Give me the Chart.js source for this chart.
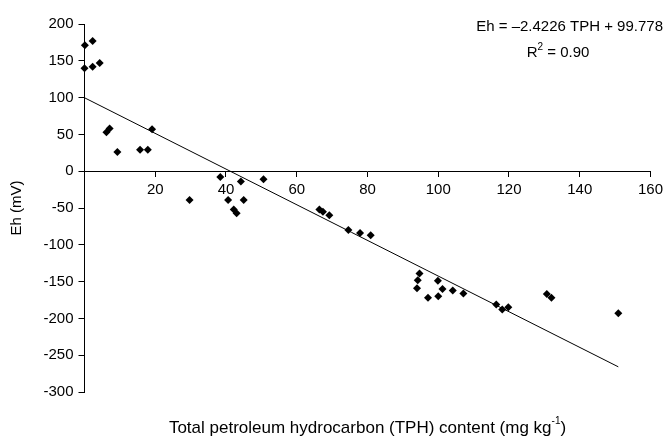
<!DOCTYPE html>
<html>
<head>
<meta charset="utf-8">
<script src="https://cdn.jsdelivr.net/npm/chart.js@4/dist/chart.umd.min.js"></script>
<style>
  html, body { margin: 0; padding: 0; background: #fff; }
  #wrap { width: 668px; height: 441px; }
</style>
</head>
<body>
<div id="wrap"><canvas id="chart"></canvas></div>
<script>
const tph = [0.1, 0, 2.3, 2.3, 4.3, 6.2, 7.1, 9.3, 15.7, 17.9, 19.1,
  29.7, 38.4, 40.6, 42.2, 43, 44.2, 45, 50.6, 66.4, 67.4, 69.2,
  74.6, 77.9, 80.9, 94.7, 94.2, 94, 97.1, 99.9, 101.2, 100, 104.1, 107.1,
  116.4, 118.1, 119.8, 130.7, 132, 150.9];
const eh = [171, 140, 177, 142, 147, 53, 58, 26, 29, 29, 57,
  -39, -8, -39, -52, -57, -14, -39, -11, -52, -55, -60,
  -80, -84, -87, -139, -148, -159, -172, -149, -160, -170, -162, -166,
  -181, -188, -185, -167, -172, -193];

const slope = -2.4226;
const intercept = 99.778;
const fitX = [0, 150.9];
const eqText = 'Eh = \u20132.4226 TPH + 99.778';
const xTitle = 'Total petroleum hydrocarbon (TPH) content (mg kg';

const font = "'Liberation Sans', Arial, sans-serif";

const points = tph.map((x, i) => ({ x, y: eh[i] }));
const fitLine = fitX.map(x => ({ x, y: slope * x + intercept }));

const textPlugin = {
  id: 'texts',
  afterDraw(chart) {
    const ctx = chart.ctx;
    const area = chart.chartArea;
    ctx.save();
    ctx.fillStyle = '#000';
    ctx.textBaseline = 'middle';

    // equation + R2 at top right
    ctx.font = '15px ' + font;
    ctx.textAlign = 'right';
    ctx.fillText(eqText, 663, 27);
    ctx.textAlign = 'left';
    const r1 = 'R', r2 = ' = 0.90';
    const wR = ctx.measureText(r1).width;
    ctx.font = '10px ' + font;
    const wS = ctx.measureText('2').width;
    ctx.font = '15px ' + font;
    const wRest = ctx.measureText(r2).width;
    let x0 = 558 - (wR + wS + wRest) / 2;
    ctx.fillText(r1, x0, 53);
    ctx.font = '10px ' + font;
    ctx.fillText('2', x0 + wR, 47);
    ctx.font = '15px ' + font;
    ctx.fillText(r2, x0 + wR + wS, 53);

    // x axis title with superscript
    ctx.font = '17px ' + font;
    const wMain = ctx.measureText(xTitle).width;
    ctx.font = '10px ' + font;
    const wSup = ctx.measureText('-1').width;
    ctx.font = '17px ' + font;
    const wEnd = ctx.measureText(')').width;
    const cx = (area.left + area.right) / 2;
    let tx = cx - (wMain + wSup + wEnd) / 2;
    ctx.fillText(xTitle, tx, 428);
    ctx.font = '10px ' + font;
    ctx.fillText('-1', tx + wMain, 421);
    ctx.font = '17px ' + font;
    ctx.fillText(')', tx + wMain + wSup, 428);
    ctx.restore();
  }
};

new Chart(document.getElementById('chart'), {
  type: 'scatter',
  data: {
    datasets: [
      {
        label: 'Eh',
        data: points,
        pointStyle: 'rectRot',
        pointRadius: 4,
        backgroundColor: '#000',
        borderColor: '#000',
        borderWidth: 0,
        clip: false
      },
      {
        label: 'Linear fit',
        type: 'line',
        data: fitLine,
        borderColor: '#000',
        borderWidth: 1,
        pointRadius: 0,
        fill: false
      }
    ]
  },
  options: {
    responsive: true,
    maintainAspectRatio: false,
    animation: false,
    layout: { padding: { top: 24, right: 13, bottom: 49, left: 4 } },
    plugins: { legend: { display: false }, tooltip: { enabled: false } },
    scales: {
      x: {
        type: 'linear',
        position: { y: 0 },
        min: 0,
        max: 160,
        grid: { display: true, drawOnChartArea: false, drawTicks: true, tickLength: 5, color: '#000' },
        border: { display: true, color: '#000', width: 1 },
        ticks: {
          stepSize: 20,
          color: '#000',
          padding: 5,
          maxRotation: 0,
          font: { family: font, size: 15 },
          callback: v => (v === 0 ? '' : v)
        }
      },
      y: {
        min: -300,
        max: 200,
        afterFit(scale) { scale.width = 80.5; },
        grid: { display: true, drawOnChartArea: false, drawTicks: true, tickLength: 6, color: '#000' },
        border: { display: true, color: '#000', width: 1 },
        ticks: {
          stepSize: 50,
          color: '#000',
          padding: 5,
          font: { family: font, size: 15 },
          callback: v => v
        },
        title: {
          display: true,
          text: 'Eh (mV)',
          color: '#000',
          font: { family: font, size: 15 },
          padding: { top: 4, bottom: 0 }
        }
      }
    }
  },
  plugins: [textPlugin]
});
</script>
</body>
</html>
